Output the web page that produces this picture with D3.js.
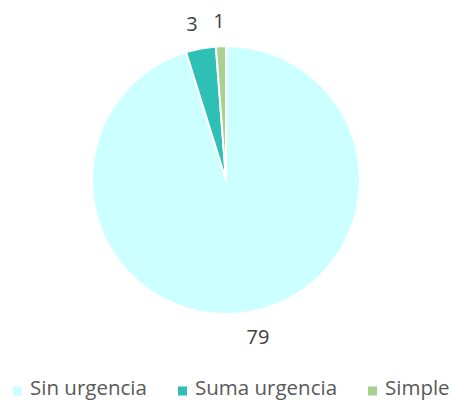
<!DOCTYPE html>
<html>
<head>
<meta charset="utf-8">
<script src="https://cdn.jsdelivr.net/npm/d3@7"></script>
<style>
  body { margin: 0; background: #fff; }
  text { font-family: "Open Sans", sans-serif; }
</style>
</head>
<body>
<svg id="chart" width="454" height="400"></svg>
<script>
const categories = ["Sin urgencia", "Suma urgencia", "Simple"];
const values = [79, 3, 1];
const colors = ["#CCFFFF", "#2EBFB5", "#A9D18E"];

const svg = d3.select("#chart"),
  cx = 226, cy = 180, radius = 134;

const color = d3.scaleOrdinal(categories, colors);

const pie = d3.pie().sort(null).value(d => d.value);
const arc = d3.arc().innerRadius(0).outerRadius(radius);
const labelArc = d3.arc().innerRadius(159).outerRadius(159);
// nudge labels the way Excel placed them
const labelDx = [8, -4, -1];

const data = categories.map((c, i) => ({ name: c, value: values[i] }));
const arcs = pie(data);

const g = svg.append("g").attr("transform", `translate(${cx},${cy})`);

g.selectAll("path")
  .data(arcs)
  .enter()
  .append("path")
  .attr("d", arc)
  .attr("fill", d => color(d.data.name))
  .attr("stroke", "#fff")
  .attr("stroke-width", 2)
  .attr("stroke-linejoin", "round");

g.selectAll("text.lbl")
  .data(arcs)
  .enter()
  .append("text")
  .attr("class", "lbl")
  .attr("transform", (d, i) => {
    const [x, y] = labelArc.centroid(d);
    return `translate(${x + labelDx[i]},${y})`;
  })
  .attr("text-anchor", "middle")
  .attr("dy", "0.35em")
  .attr("font-size", 20)
  .attr("fill", "#404040")
  .text(d => d.data.value);

// legend
const legendX = [13, 178, 368];
const legend = svg.append("g")
  .selectAll("g")
  .data(categories)
  .enter()
  .append("g")
  .attr("transform", (d, i) => `translate(${legendX[i]},391)`);

legend.append("rect")
  .attr("x", 0)
  .attr("y", -4.5)
  .attr("width", 9)
  .attr("height", 9)
  .attr("fill", d => color(d));

legend.append("text")
  .attr("x", 17)
  .attr("y", 4)
  .attr("font-size", 20.5)
  .attr("fill", "#595959")
  .text(d => d);
</script>
</body>
</html>
